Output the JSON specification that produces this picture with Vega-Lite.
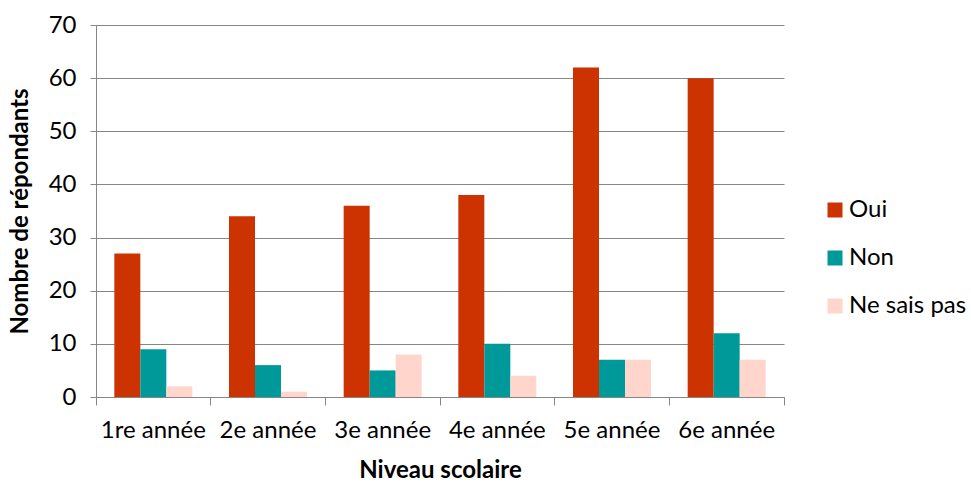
{
  "$schema": "https://vega.github.io/schema/vega-lite/v6.json",
  "width": 688,
  "height": 372,
  "autosize": {"type": "none"},
  "padding": {"left": 96, "top": 25, "right": 187, "bottom": 86},
  "background": "white",
  "config": {
    "view": {"stroke": null},
    "font": "Lato"
  },
  "data": {
    "values": [
      {"niveau": "1re année", "reponse": "Oui", "n": 27},
      {"niveau": "1re année", "reponse": "Non", "n": 9},
      {"niveau": "1re année", "reponse": "Ne sais pas", "n": 2},
      {"niveau": "2e année", "reponse": "Oui", "n": 34},
      {"niveau": "2e année", "reponse": "Non", "n": 6},
      {"niveau": "2e année", "reponse": "Ne sais pas", "n": 1},
      {"niveau": "3e année", "reponse": "Oui", "n": 36},
      {"niveau": "3e année", "reponse": "Non", "n": 5},
      {"niveau": "3e année", "reponse": "Ne sais pas", "n": 8},
      {"niveau": "4e année", "reponse": "Oui", "n": 38},
      {"niveau": "4e année", "reponse": "Non", "n": 10},
      {"niveau": "4e année", "reponse": "Ne sais pas", "n": 4},
      {"niveau": "5e année", "reponse": "Oui", "n": 62},
      {"niveau": "5e année", "reponse": "Non", "n": 7},
      {"niveau": "5e année", "reponse": "Ne sais pas", "n": 7},
      {"niveau": "6e année", "reponse": "Oui", "n": 60},
      {"niveau": "6e année", "reponse": "Non", "n": 12},
      {"niveau": "6e année", "reponse": "Ne sais pas", "n": 7}
    ]
  },
  "mark": {"type": "bar"},
  "encoding": {
    "x": {
      "field": "niveau",
      "type": "nominal",
      "sort": null,
      "scale": {"paddingInner": 0, "paddingOuter": 0},
      "axis": {
        "title": "Niveau scolaire",
        "titleFont": "Lato",
        "titleFontSize": 24,
        "titleFontWeight": "bold",
        "titleColor": "#000000",
        "titlePadding": 16,
        "labelAngle": 0,
        "labelFont": "Lato",
        "labelFontSize": 24,
        "labelColor": "#000000",
        "labelPadding": 13,
        "bandPosition": 1,
        "tickExtra": true,
        "tickSize": 8,
        "tickColor": "#868686",
        "domainColor": "#868686",
        "grid": false
      }
    },
    "xOffset": {
      "field": "reponse",
      "type": "nominal",
      "sort": ["Oui", "Non", "Ne sais pas"],
      "scale": {"paddingInner": 0, "paddingOuter": 0.705}
    },
    "y": {
      "field": "n",
      "type": "quantitative",
      "scale": {"domain": [0, 70]},
      "axis": {
        "title": "Nombre de répondants",
        "titleFont": "Lato",
        "titleFontSize": 24,
        "titleFontWeight": "bold",
        "titleColor": "#000000",
        "titlePadding": 16,
        "values": [0, 10, 20, 30, 40, 50, 60, 70],
        "labelFont": "Lato",
        "labelFontSize": 24,
        "labelColor": "#000000",
        "labelPadding": 14,
        "tickSize": 6,
        "tickColor": "#868686",
        "domainColor": "#868686",
        "gridColor": "#868686",
        "grid": true
      }
    },
    "color": {
      "field": "reponse",
      "type": "nominal",
      "sort": ["Oui", "Non", "Ne sais pas"],
      "scale": {"domain": ["Oui", "Non", "Ne sais pas"], "range": ["#CC3300", "#009999", "#FFD5CC"]},
      "legend": {
        "title": null,
        "orient": "none",
        "legendX": 727,
        "legendY": 173,
        "symbolType": "square",
        "symbolSize": 225,
        "symbolStrokeWidth": 0,
        "labelFont": "Lato",
        "labelFontSize": 24,
        "labelColor": "#000000",
        "labelOffset": 2,
        "rowPadding": 24
      }
    }
  }
}
